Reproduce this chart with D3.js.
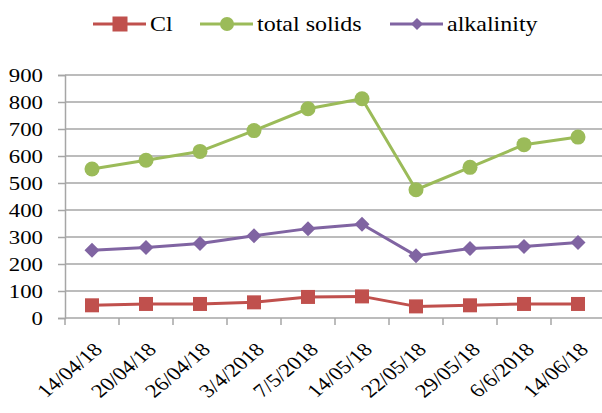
<!DOCTYPE html>
<html>
<head>
<meta charset="utf-8">
<script src="https://cdn.jsdelivr.net/npm/d3@7"></script>
<style>
  html, body { margin: 0; padding: 0; background: #fff; }
  svg { display: block; }
</style>
</head>
<body>
<svg id="chart" width="602" height="413"></svg>
<script>
// Sampling dates
const dates = ["14/04/18", "20/04/18", "26/04/18", "3/4/2018", "7/5/2018",
               "14/05/18", "22/05/18", "29/05/18", "6/6/2018", "14/06/18"];

// Measured series
const cl          = [47, 52, 52, 58, 78, 80, 43, 47, 52, 52];
const totalSolids = [552, 584, 617, 694, 775, 812, 475, 558, 642, 670];
const alkalinity  = [251, 261, 276, 305, 331, 347, 231, 257, 265, 280];

// Y axis ticks
const yTicks = [0, 100, 200, 300, 400, 500, 600, 700, 800, 900];

const series = [
  { name: "Cl",           values: cl,          color: "#C0504D", marker: "square"  },
  { name: "total solids", values: totalSolids, color: "#9BBB59", marker: "circle"  },
  { name: "alkalinity",   values: alkalinity,  color: "#8064A2", marker: "diamond" }
];

const FONT = "Liberation Serif";
const SX = 1.2; // horizontally widened lettering

const svg = d3.select("#chart").attr("font-family", FONT);
const margin = { left: 65, right: -3, top: 75, bottom: 95 };
const W = 602, H = 413;

const x = d3.scaleBand().domain(dates).range([margin.left, W - margin.right]).padding(0);
const y = d3.scaleLinear().domain([0, 900]).range([H - margin.bottom, margin.top]);
const cx = d => x(d) + x.bandwidth() / 2;

const gridColor = "#A6A6A6";

// Horizontal gridlines
svg.append("g")
  .selectAll("line")
  .data(yTicks.filter(d => d > 0))
  .join("line")
  .attr("x1", margin.left).attr("x2", W)
  .attr("y1", d => y(d)).attr("y2", d => y(d))
  .attr("stroke", gridColor).attr("stroke-width", 1.5);

// Y axis
const yAxis = svg.append("g")
  .attr("transform", `translate(${margin.left},0)`)
  .call(d3.axisLeft(y).tickValues(yTicks).tickSize(7).tickPadding(15).tickFormat(d3.format("d")));
yAxis.attr("font-family", FONT).attr("font-size", 19);
yAxis.select(".domain").attr("stroke", gridColor).attr("stroke-width", 1.5);
yAxis.selectAll(".tick line").attr("stroke", gridColor).attr("stroke-width", 1.5);
yAxis.selectAll(".tick text")
  .attr("fill", "#000")
  .attr("font-family", FONT)
  .attr("x", 0)
  .attr("transform", `translate(-22,0) scale(${SX},1)`);

// X axis line and tick marks at category boundaries
const xBase = y(0);
svg.append("line")
  .attr("x1", margin.left).attr("x2", W)
  .attr("y1", xBase).attr("y2", xBase)
  .attr("stroke", gridColor).attr("stroke-width", 1.5);
svg.append("g")
  .selectAll("line")
  .data(dates)
  .join("line")
  .attr("x1", d => x(d)).attr("x2", d => x(d))
  .attr("y1", xBase).attr("y2", xBase + 7)
  .attr("stroke", gridColor).attr("stroke-width", 1.5);

// Rotated date labels
svg.append("g")
  .selectAll("text")
  .data(dates)
  .join("text")
  .attr("transform", d => `translate(${cx(d) + 1},${xBase + 24}) scale(${SX},1) rotate(-45)`)
  .attr("text-anchor", "end")
  .attr("dy", "0.66em")
  .attr("font-family", FONT)
  .attr("font-size", 19)
  .attr("fill", "#000")
  .text(d => d);

// Marker drawing
function drawMarker(g, type, color, size) {
  if (type === "square") {
    g.append("rect").attr("x", -size / 2).attr("y", -size / 2)
      .attr("width", size).attr("height", size).attr("fill", color);
  } else if (type === "circle") {
    g.append("circle").attr("r", size / 2).attr("fill", color);
  } else {
    const h = size / 2;
    g.append("path").attr("d", `M0,${-h}L${h},0L0,${h}L${-h},0Z`).attr("fill", color);
  }
}
const markerSize = m => m === "circle" ? 15 : (m === "square" ? 14 : 15);

const line = d3.line()
  .x((d, i) => cx(dates[i]))
  .y(d => y(d));

series.forEach(s => {
  svg.append("path")
    .datum(s.values)
    .attr("d", line)
    .attr("fill", "none")
    .attr("stroke", s.color)
    .attr("stroke-width", 3)
    .attr("stroke-linejoin", "round");
  s.values.forEach((v, i) => {
    const g = svg.append("g")
      .attr("transform", `translate(${cx(dates[i])},${y(v)})`);
    drawMarker(g, s.marker, s.color, markerSize(s.marker));
  });
});

// Legend
const legendItems = [
  { s: series[0], x0: 93,  lsize: 15 },
  { s: series[1], x0: 200, lsize: 14 },
  { s: series[2], x0: 390, lsize: 12 }
];
const ly = 24;
legendItems.forEach(({ s, x0, lsize }) => {
  const g = svg.append("g");
  g.append("line").attr("x1", x0).attr("x2", x0 + 53).attr("y1", ly).attr("y2", ly)
    .attr("stroke", s.color).attr("stroke-width", 3);
  const m = g.append("g").attr("transform", `translate(${x0 + 27},${ly})`);
  drawMarker(m, s.marker, s.color, lsize);
  g.append("text")
    .attr("transform", `translate(${x0 + 57},${ly}) scale(${SX},1)`)
    .attr("dy", "0.35em")
    .attr("font-family", FONT).attr("font-size", 20).attr("fill", "#000")
    .text(s.name);
});
</script>
</body>
</html>
